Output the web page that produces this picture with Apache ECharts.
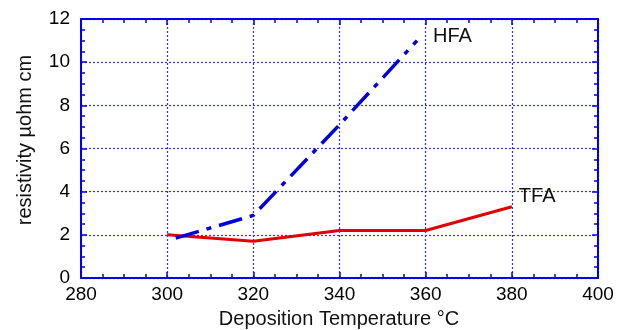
<!DOCTYPE html>
<html>
<head>
<meta charset="utf-8">
<script src="https://cdn.jsdelivr.net/npm/echarts@6/dist/echarts.min.js"></script>
<style>html,body{margin:0;padding:0;background:#fff}#c{width:633px;height:330px}</style>
</head>
<body>
<div id="c"></div>
<script>
var xTicks = [280, 300, 320, 340, 360, 380, 400];
var yTicks = [0, 2, 4, 6, 8, 10, 12];
var tfaTemp = [300, 320, 340, 360, 380];
var tfaRes = [2.0, 1.7, 2.2, 2.2, 3.3];
var hfaTemp = [302, 320, 340, 358];
var hfaRes = [1.85, 2.9, 7.1, 11.0];
var xTitle = 'Deposition Temperature °C';
var yTitle = 'resistivity µohm cm';

var FONT = '"Liberation Sans", Arial, sans-serif';
var BLUE = '#0000ee';
function pairs(a, b) { return a.map(function (v, i) { return [v, b[i]]; }); }

function axisBase(min, max, interval, pos, labels) {
  return {
    type: 'value', min: min, max: max, interval: interval, position: pos,
    axisLine: { show: true, onZero: false, lineStyle: { color: BLUE, width: 2 } },
    axisTick: { show: true, inside: true, length: 6, lineStyle: { color: BLUE, width: 1.5 } },
    minorTick: { show: true, splitNumber: 4, length: 4, lineStyle: { color: BLUE, width: 1.5 } },
    axisLabel: labels ? { show: true, color: '#000', fontSize: 19, fontFamily: FONT } : { show: false },
    splitLine: { show: false },
    minorSplitLine: { show: false }
  };
}

var GRIDLINE = { show: true, lineStyle: { color: '#3030ff', width: 1.2, type: [2, 2] } };
var xb = axisBase(xTicks[0], xTicks[xTicks.length - 1], xTicks[1] - xTicks[0], 'bottom', true);
xb.axisLabel.margin = 7;
xb.splitLine = GRIDLINE;
var xt = axisBase(xTicks[0], xTicks[xTicks.length - 1], xTicks[1] - xTicks[0], 'top', false);
var yl = axisBase(yTicks[0], yTicks[yTicks.length - 1], yTicks[1] - yTicks[0], 'left', true);
yl.axisLabel.margin = 11;
yl.splitLine = GRIDLINE;
var yr = axisBase(yTicks[0], yTicks[yTicks.length - 1], yTicks[1] - yTicks[0], 'right', false);

var chart = echarts.init(document.getElementById('c'), null, { renderer: 'canvas' });
chart.setOption({
  animation: false,
  backgroundColor: '#fff',
  grid: { left: 81, right: 35, top: 19, bottom: 52, containLabel: false },
  xAxis: [xb, xt],
  yAxis: [yl, yr],
  series: [
    {
      name: 'TFA', type: 'line', xAxisIndex: 0, yAxisIndex: 0,
      data: pairs(tfaTemp, tfaRes), symbol: 'none',
      lineStyle: { color: '#e00000', width: 3 },
      endLabel: { show: true, formatter: 'TFA', color: '#111', fontSize: 20, fontFamily: FONT, distance: 0, offset: [7, -10] }
    },
    {
      name: 'HFA', type: 'line', xAxisIndex: 0, yAxisIndex: 0,
      data: pairs(hfaTemp, hfaRes), symbol: 'none',
      lineStyle: { color: '#0000dd', width: 3.5, type: [24, 8, 5, 8] },
      endLabel: { show: true, formatter: 'HFA', color: '#111', fontSize: 20, fontFamily: FONT, distance: 0, offset: [16, -4.5] }
    }
  ],
  graphic: [
    { type: 'text', x: 339, y: 319, style: { text: xTitle, font: '20px ' + FONT, fill: '#111', align: 'center', verticalAlign: 'middle' } },
    { type: 'text', x: 25, y: 140, rotation: Math.PI / 2, style: { text: yTitle, font: '20px ' + FONT, fill: '#111', align: 'center', verticalAlign: 'middle' } }
  ]
});
</script>
</body>
</html>
